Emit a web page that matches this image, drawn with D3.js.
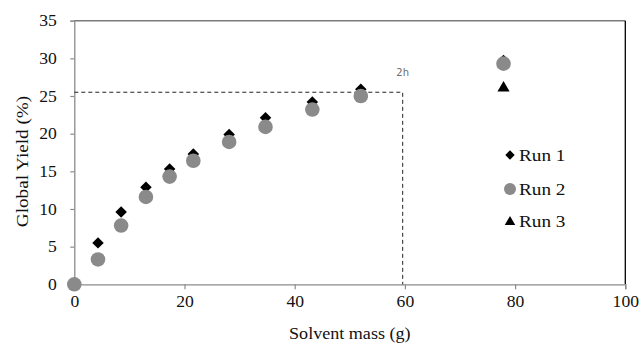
<!DOCTYPE html>
<html>
<head>
<meta charset="utf-8">
<script src="https://cdn.jsdelivr.net/npm/d3@7"></script>
<style>
  body { margin: 0; background: #fff; }
  svg { display: block; }
  svg text { font-family: "Liberation Serif", "DejaVu Serif", serif; }
  svg text.note { font-family: "DejaVu Sans", sans-serif; }
</style>
</head>
<body>
<svg id="chart" width="641" height="345"></svg>
<script>
// data
const run1Mass = [4.3, 8.5, 13.0, 17.3, 21.6, 28.1, 34.7, 43.2, 52.0, 77.9];
const run1Yield = [5.5, 9.6, 12.9, 15.3, 17.3, 19.9, 22.1, 24.2, 25.9, 29.7];
const run2Mass = [0, 4.3, 8.5, 13.0, 17.3, 21.6, 28.1, 34.7, 43.2, 52.0, 77.9];
const run2Yield = [0, 3.3, 7.8, 11.6, 14.3, 16.4, 18.9, 20.9, 23.2, 25.0, 29.3];
const run3Mass = [77.9];
const run3Yield = [26.2];
const xTicks = [0, 20, 40, 60, 80, 100];
const yTicks = [0, 5, 10, 15, 20, 25, 30, 35];
const cutMass = 59.6;
const cutYield = 25.5;
const cutLabel = '2h';
const legendNames = ['Run 1', 'Run 2', 'Run 3'];

const serif = '"Liberation Serif", "DejaVu Serif", serif';
const svg = d3.select('#chart');
const margin = { left: 74.3, right: 15.7, top: 20.7, bottom: 60.7 };
const width = 641 - margin.left - margin.right;
const height = 345 - margin.top - margin.bottom;
const g = svg.append('g').attr('transform', `translate(${margin.left},${margin.top})`);

const xScale = d3.scaleLinear().domain([0, 100]).range([0, width]);
const yScale = d3.scaleLinear().domain([0, 35]).range([height, 0]);

// frame: top gray, right black
g.append('line').attr('x1', 0).attr('x2', width).attr('y1', 0).attr('y2', 0)
  .attr('stroke', '#7a7a7a').attr('stroke-width', 1.5);
g.append('line').attr('x1', width).attr('x2', width).attr('y1', 0).attr('y2', height)
  .attr('stroke', '#000').attr('stroke-width', 1.3);

const xAxis = d3.axisBottom(xScale).tickValues(xTicks).tickSize(5).tickPadding(6);
const yAxis = d3.axisLeft(yScale).tickValues(yTicks).tickSize(4).tickPadding(12);

const xAxisG = g.append('g').attr('transform', `translate(0,${height})`).call(xAxis);
const yAxisG = g.append('g').call(yAxis);
[xAxisG, yAxisG].forEach((a) => {
  a.attr('font-family', serif).attr('font-size', 16);
  a.select('.domain').attr('stroke', '#8c8c8c').attr('stroke-width', 1.3);
  a.selectAll('.tick line').attr('stroke', '#8c8c8c').attr('stroke-width', 1.2);
  a.selectAll('.tick text').attr('fill', '#111').attr('transform', 'scale(1.1,1)');
});
xAxisG.selectAll('.tick text').attr('dy', '0.75em');

// axis titles (the original type is set wide, hence the stretch)
svg.append('text')
  .attr('transform', `translate(${margin.left + xScale(50)},339) scale(1.13,1)`)
  .attr('text-anchor', 'middle')
  .attr('fill', '#111')
  .attr('font-size', 16)
  .text('Solvent mass (g)');

svg.append('text')
  .attr('transform', `translate(28,${margin.top + height / 2 + 9}) rotate(-90) scale(1.2,1)`)
  .attr('text-anchor', 'middle')
  .attr('fill', '#111')
  .attr('font-size', 16)
  .text('Global Yield (%)');

// dashed guide
g.append('path')
  .attr('d', `M0,${yScale(cutYield)}H${xScale(cutMass)}V${height}`)
  .attr('fill', 'none')
  .attr('stroke', '#222')
  .attr('stroke-width', 1)
  .attr('stroke-dasharray', '4,3');

g.append('text')
  .attr('class', 'note')
  .attr('x', xScale(cutMass))
  .attr('y', yScale(cutYield) - 16.5)
  .attr('text-anchor', 'middle')
  .attr('fill', '#6e6e6e')
  .attr('font-size', 10)
  .text(cutLabel);

const diamond = d3.symbol().type(d3.symbolSquare).size(66);
const triangle = d3.symbol().type(d3.symbolTriangle).size(64);

// run 3 triangles
g.selectAll('.run3')
  .data(run3Mass)
  .enter()
  .append('path')
  .attr('class', 'run3')
  .attr('d', triangle)
  .attr('transform', (d, i) => `translate(${xScale(d)},${yScale(run3Yield[i]) + 1})`)
  .attr('fill', '#000');

// run 1 diamonds
g.selectAll('.run1')
  .data(run1Mass)
  .enter()
  .append('path')
  .attr('class', 'run1')
  .attr('d', diamond)
  .attr('transform', (d, i) => `translate(${xScale(d)},${yScale(run1Yield[i])}) rotate(45)`)
  .attr('fill', '#000');

// run 2 circles
g.selectAll('.run2')
  .data(run2Mass)
  .enter()
  .append('circle')
  .attr('class', 'run2')
  .attr('cx', (d) => xScale(d))
  .attr('cy', (d, i) => yScale(run2Yield[i]))
  .attr('r', 7.3)
  .attr('fill', '#8a8a8a');

// legend
const legend = svg.append('g').attr('transform', 'translate(510,155)');
const legendRows = legend.selectAll('g')
  .data(legendNames)
  .enter()
  .append('g')
  .attr('transform', (d, i) => `translate(0,${[0, 34, 66][i]})`);

legendRows.each(function (d, i) {
  const row = d3.select(this);
  if (i === 0) {
    row.append('path').attr('d', d3.symbol().type(d3.symbolSquare).size(44))
      .attr('transform', 'rotate(45)').attr('fill', '#000');
  } else if (i === 1) {
    row.append('circle').attr('r', 6).attr('fill', '#8a8a8a');
  } else {
    row.append('path').attr('d', d3.symbol().type(d3.symbolTriangle).size(48))
      .attr('transform', 'translate(0,1)').attr('fill', '#000');
  }
});

legendRows.append('text')
  .attr('transform', 'translate(9,6) scale(1.2,1)')
  .attr('fill', '#111')
  .attr('font-size', 16)
  .text((d) => d);
</script>
</body>
</html>
